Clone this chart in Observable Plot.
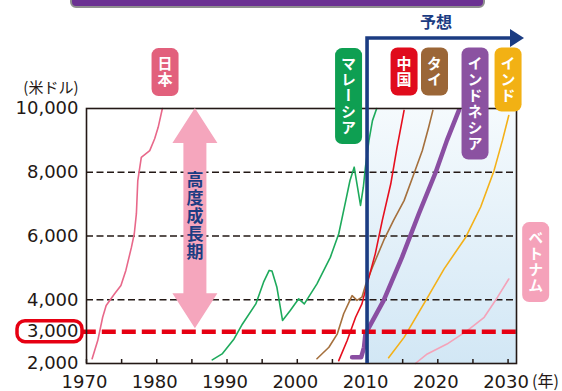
<!DOCTYPE html>
<html><head><meta charset="utf-8">
<script src="https://cdn.jsdelivr.net/npm/d3@7"></script>
<script src="https://cdn.jsdelivr.net/npm/@observablehq/plot@0.6"></script>
<style>
html,body{margin:0;padding:0;background:#fff;}
#chart{width:562px;height:391px;overflow:hidden;position:relative;}
</style></head><body><div id="chart"></div>
<script>
// ---- data: [year, GDP per capita (US$)] ----
const japan = [[1970.8,2150],[1971.6,2720],[1972.3,3450],[1972.8,3820],[1974,4190],[1974.9,4450],[1975.6,4920],[1976.4,5650],[1976.8,6070],[1977.1,6700],[1977.3,7740],[1977.8,8470],[1979,8680],[1979.7,9050],[1980.2,9410],[1980.8,10000]];
const malaysia = [[1987.9,2115],[1989.3,2300],[1991.0,2770],[1992.2,3240],[1994.1,3870],[1995.2,4550],[1996.0,4920],[1996.4,4900],[1997.1,4390],[1997.9,3350],[1999.0,3660],[2000.2,4030],[2001.0,3870],[2002.8,4500],[2004.7,5330],[2005.9,6070],[2006.9,7110],[2007.5,7740],[2008.1,8160],[2008.5,7630],[2009.0,6960],[2009.4,7530],[2009.7,8160],[2010.2,9000],[2010.7,9620],[2011.3,10000]];
const thailand = [[2002.8,2150],[2004.5,2510],[2005.7,2930],[2006.6,3560],[2007.8,4130],[2008.5,3980],[2009.2,4080],[2009.7,4450],[2010.7,5020],[2012.3,5860],[2013.7,6490],[2015.2,7110],[2016.6,7950],[2017.8,8680],[2018.7,9410],[2019.3,9940]];
const china = [[2005.9,2090],[2007.1,2720],[2008.3,3450],[2009.2,3870],[2010.2,4710],[2011.1,5440],[2012.1,6490],[2013.3,7630],[2014.2,8780],[2015.2,9940]];
const indonesia = [[2007.8,2200],[2009.1,2200],[2009.5,2510],[2009.7,2930],[2012.3,3980],[2014.9,5330],[2017.3,6700],[2019.7,8000],[2021.3,9000],[2023.0,9940]];
const india = [[2013.0,2180],[2015.2,2820],[2018.3,3980],[2020.9,4970],[2024.0,5970],[2026.1,6910],[2028.0,8050],[2029.2,9000],[2030.1,9780]];
const vietnam = [[2016.8,2000],[2018.5,2300],[2021.3,2610],[2024.2,3030],[2026.6,3450],[2028.5,4080],[2030.1,4650]];

const yTicks = [2000, 3000, 4000, 6000, 8000, 10000];
const gridValues = [4000, 6000, 8000];
const threshold = [3000];
const xLabelYears = [1970, 1980, 1990, 2000, 2010, 2020, 2030];
const xTickYears = [1970,1975,1980,1985,1990,1995,2000,2005,2010,2015,2020,2025,2030];
const forecastStart = 2010;
const highGrowth = [3000, 10000];

const labelNames = ["日本", "マレーシア", "中国", "タイ", "インドネシア", "インド", "ベトナム"];
const labelYears = [1981.25, 2007.37, 2015.27, 2019.6, 2025.37, 2030.07, 2034.0];
const labelTops = [11880, 11880, 11900, 11900, 11900, 11900, 6420];

// ---- styles ----
const seriesList = [
  {name: "日本", data: japan, color: "#e8688a", width: 1.6},
  {name: "マレーシア", data: malaysia, color: "#1eaa5c", width: 1.6},
  {name: "タイ", data: thailand, color: "#a5703d", width: 1.6},
  {name: "中国", data: china, color: "#e60f1e", width: 1.6},
  {name: "インド", data: india, color: "#f4b118", width: 1.6},
  {name: "ベトナム", data: vietnam, color: "#f4a3b9", width: 1.6},
  {name: "インドネシア", data: indonesia, color: "#8a4ea2", width: 4.5}
];
const labelColors = ["#e2607c", "#0e9f52", "#e00b1c", "#9b6637", "#8b52a1", "#f2b114", "#f5a2ba"];
const ink = "#231815";
const navy = "#1b3c82";
const xMax = 2031.2;

const rows = seriesList.flatMap(s => s.data.map(([year, value]) => ({country: s.name, year, value})));

const plot = Plot.plot({
  width: 562, height: 391,
  marginLeft: 86, marginRight: 46, marginTop: 108, marginBottom: 28,
  x: {domain: [1970, xMax]},
  y: {domain: [2000, 10000]},
  style: {fontFamily: "'DejaVu Sans', sans-serif", fontSize: "18px", color: ink, background: "#fff"},
  marks: [
    Plot.rect([0], {x1: forecastStart, x2: xMax, y1: 2000, y2: 10000, fill: "url(#fc)"}),
    Plot.ruleY(gridValues, {stroke: ink, strokeWidth: 1.6, strokeDasharray: "7,3.5"}),
    ...seriesList.map(s => Plot.line(rows.filter(r => r.country === s.name), {x: "year", y: "value", stroke: s.color, strokeWidth: s.width})),
    Plot.ruleY(threshold, {x1: 1969.4, x2: xMax, stroke: "#e60012", strokeWidth: 4.5, strokeDasharray: "14,6"}),
    Plot.frame({stroke: ink, strokeWidth: 1.6}),
    Plot.tickX(xTickYears, {x: d => d, stroke: ink, strokeWidth: 1.5, insetTop: 251}),
    Plot.axisY({ticks: yTicks, tickSize: 0, tickPadding: 8, tickFormat: d3.format(","), label: null, fill: ink}),
    Plot.axisX({ticks: xLabelYears, tickSize: 0, tickPadding: 12, dx: -2, tickFormat: d => String(d), label: null, fill: ink}),
    Plot.text(["(年)"], {x: 2030, frameAnchor: "bottom", dx: 24, dy: 12, textAnchor: "start", lineAnchor: "top", fontSize: 16, fontFamily: "Noto Sans CJK JP", fill: ink}),
    Plot.text(["(米ドル)"], {frameAnchor: "top-left", dx: -8, dy: -16, textAnchor: "end", lineAnchor: "bottom", fontSize: 15, fontFamily: "Noto Sans CJK JP", fill: ink})
  ]
});

document.getElementById("chart").appendChild(plot);

const svg = d3.select(plot);
const sx = plot.scale("x"), sy = plot.scale("y");
const X = v => sx.apply(v), Y = v => sy.apply(v);

const defs = svg.insert("defs", ":first-child");
const grad = defs.append("linearGradient").attr("id", "fc").attr("x1", 0).attr("y1", 0).attr("x2", 0).attr("y2", 1);
grad.append("stop").attr("offset", "0%").attr("stop-color", "#f5fafd");
grad.append("stop").attr("offset", "100%").attr("stop-color", "#d2e7f5");

// title bar (cropped)
svg.append("rect").attr("x", 71).attr("y", -14).attr("width", 413).attr("height", 21).attr("rx", 5)
  .attr("fill", "#6b3192").attr("stroke", "#8f8f8f").attr("stroke-width", 2);

// red box around 3,000
svg.append("rect").attr("x", 17).attr("y", Y(3000) - 10.5).attr("width", 65).attr("height", 21).attr("rx", 8)
  .attr("fill", "none").attr("stroke", "#e60012").attr("stroke-width", 3.5);

// high growth arrow
{
  const cx = X(1985.5), top = Y(highGrowth[1]), bot = Y(highGrowth[0]) - 3;
  const sh = 11.5, hh = 22.5, hl = 35;
  const pts = [[cx, top], [cx + hh, top + hl], [cx + sh, top + hl], [cx + sh, bot - hl], [cx + hh, bot - hl], [cx, bot],
               [cx - hh, bot - hl], [cx - sh, bot - hl], [cx - sh, top + hl], [cx - hh, top + hl]];
  svg.append("polygon").attr("points", pts.map(p => p.join(",")).join(" ")).attr("fill", "#f5a6bd");
  svg.append("text").text("高度成長期").attr("x", cx).attr("y", (top + bot) / 2 - 2)
    .attr("style", "writing-mode: vertical-rl; letter-spacing: 1px;")
    .attr("text-anchor", "middle").attr("dominant-baseline", "central")
    .attr("font-family", "Noto Sans CJK JP").attr("font-weight", "bold").attr("font-size", 17).attr("fill", navy);
}

// forecast arrow
{
  const x0 = X(forecastStart), yb = Y(2000), yt = 38, xe = 513;
  svg.append("path").attr("d", `M${x0},${yb}V${yt}H${xe}`).attr("fill", "none").attr("stroke", navy).attr("stroke-width", 3.6);
  svg.append("polygon").attr("points", `${xe - 3},29 ${xe + 11},${yt} ${xe - 3},47`).attr("fill", navy);
  svg.append("text").text("予想").attr("x", 436).attr("y", 21).attr("text-anchor", "middle").attr("dominant-baseline", "central")
    .attr("font-family", "Noto Sans CJK JP").attr("font-weight", "bold").attr("font-size", 16).attr("fill", navy);
}

// series labels
labelNames.forEach((name, i) => {
  const n = [...name].length;
  const cx = X(labelYears[i]), top = Y(labelTops[i]);
  const h = 16 * n + 16, w = 27;
  svg.append("rect").attr("x", cx - w / 2).attr("y", top).attr("width", w).attr("height", h).attr("rx", 7)
    .attr("fill", labelColors[i]);
  svg.append("text").text(name).attr("x", cx).attr("y", top + h / 2)
    .attr("style", "writing-mode: vertical-rl; letter-spacing: 1px;")
    .attr("text-anchor", "middle").attr("dominant-baseline", "central")
    .attr("font-family", "Noto Sans CJK JP").attr("font-weight", "bold").attr("font-size", 15).attr("fill", "#fff");
});
</script></body></html>
